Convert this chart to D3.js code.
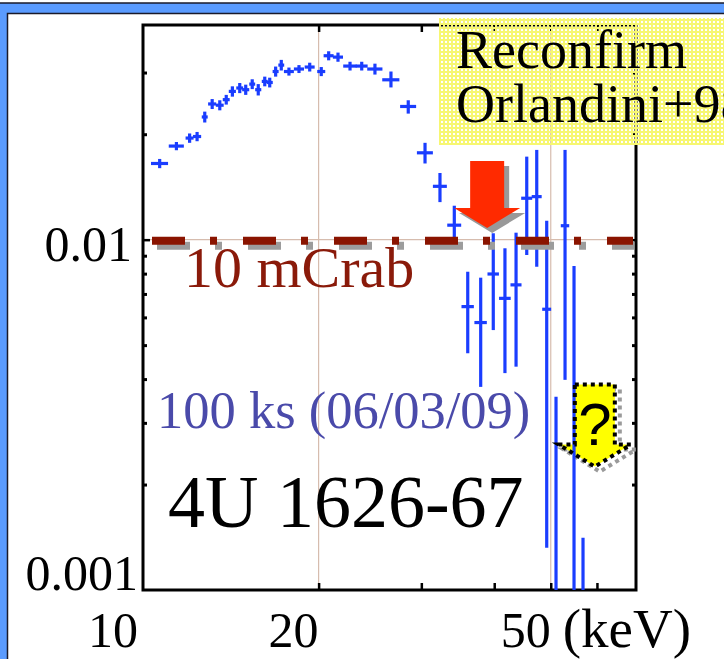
<!DOCTYPE html>
<html>
<head>
<meta charset="utf-8">
<script src="https://cdn.jsdelivr.net/npm/d3@7"></script>
<style>
  html, body { margin: 0; padding: 0; background: #fff; }
  svg { display: block; }
  text { font-family: "Liberation Serif", "Times New Roman", Times, serif; }
</style>
</head>
<body>
<svg id="chart" width="724" height="659"></svg>
<script>
// Spectral bins: centre energy (keV), half bin width (keV), flux and its 1-sigma range
const energy = [10.68, 11.41, 12.02, 12.38, 12.76, 13.14, 13.54, 13.89, 14.23, 14.65,
                15.00, 15.39, 15.76, 16.17, 16.49, 16.88, 17.26, 17.79, 18.51, 19.31,
                20.21, 20.81, 21.59, 22.64, 23.71, 24.98, 26.61, 28.49, 30.44, 32.29,
                34.17, 36.03, 37.92, 39.85, 41.73, 43.60, 45.48, 47.31, 49.21, 51.05,
                52.90, 54.81, 56.79];
const halfWidth = [0.36, 0.34, 0.19, 0.20, 0.15, 0.21, 0.21, 0.19, 0.20, 0.20,
                   0.21, 0.18, 0.19, 0.19, 0.20, 0.20, 0.20, 0.35, 0.37, 0.38,
                   0.32, 0.41, 0.43, 0.60, 0.56, 0.75, 0.90, 0.90, 0.96, 0.89,
                   0.94, 0.88, 0.93, 0.90, 0.96, 0.95, 0.99, 0.93, 0.87, 0.91,
                   0.88, 0.87, 0.90];
const flux = [0.0165, 0.0185, 0.0195, 0.0197, 0.0224, 0.0244, 0.0242, 0.0251, 0.0265, 0.0271,
              0.0268, 0.0278, 0.0268, 0.0283, 0.0281, 0.0302, 0.0315, 0.0302, 0.0307, 0.0311,
              0.0302, 0.0335, 0.0332, 0.0313, 0.0313, 0.0307, 0.0286, 0.0240, 0.0177, 0.0142,
              0.0110, 0.00644, 0.00580, 0.00798, 0.00680, 0.00743, 0.01313, 0.01327, 0.00633, 0.00080,
              0.01096, 0.00070, 0.00050];
const fluxLo = [0.0160, 0.0180, 0.0189, 0.0191, 0.0216, 0.0236, 0.0234, 0.0243, 0.0256, 0.0262,
                0.0259, 0.0269, 0.0258, 0.0274, 0.0272, 0.0292, 0.0304, 0.0294, 0.0299, 0.0302,
                0.0293, 0.0325, 0.0322, 0.0304, 0.0304, 0.0296, 0.0272, 0.0229, 0.0165, 0.0128,
                0.0098, 0.00474, 0.00380, 0.00552, 0.00416, 0.00434, 0.00904, 0.00837, 0.00132, 0.00010,
                0.00398, 0.00010, 0.00010];
const fluxHi = [0.0170, 0.0190, 0.0201, 0.0203, 0.0232, 0.0252, 0.0250, 0.0259, 0.0274, 0.0280,
                0.0277, 0.0287, 0.0278, 0.0292, 0.0290, 0.0312, 0.0326, 0.0310, 0.0315, 0.0320,
                0.0311, 0.0345, 0.0342, 0.0322, 0.0322, 0.0318, 0.0302, 0.0250, 0.0189, 0.0155,
                0.0125, 0.00810, 0.00779, 0.01043, 0.00945, 0.01047, 0.01726, 0.01804, 0.01133, 0.00356,
                0.01804, 0.00841, 0.00141];

// Axes
const xDomain = [10, 70];
const yDomain = [0.001, 0.041];
const xMajorTicks = [20, 30, 40, 50, 60];
const xTickLabels = [[10, "10"], [20, "20"], [50, "50"]];
const xUnitLabel = "(keV)";
const yMajorTicks = [0.01];
const yMinorTicks = [0.002, 0.003, 0.004, 0.005, 0.006, 0.007, 0.008, 0.009, 0.02, 0.03];
const yTickLabels = [[0.01, "0.01"], [0.001, "0.001"]];
const gridX = [20, 50];
const gridY = [0.01];

// Reference level and annotations
const crabLevel = 0.01;
const crabLabel = "10 mCrab";
const exposureLabel = "100 ks (06/03/09)";
const sourceLabel = "4U 1626-67";
const noteLines = ["Reconfirm", "Orlandini+98"];
const redArrowAt = [38.9, 0.0108];    // tip of the red arrow (keV, flux)
const queryArrowAt = [59.5, 0.00225]; // tip of the yellow "?" arrow

const svg = d3.select("#chart");
const W = 724, H = 659;
const plot = { left: 143, right: 636, top: 25, bottom: 590 };

const x = d3.scaleLog().domain(xDomain).range([plot.left, plot.right]);
const y = d3.scaleLog().domain(yDomain).range([plot.bottom, plot.top]);

const defs = svg.append("defs");
defs.append("clipPath").attr("id", "plotClip")
  .append("rect")
  .attr("x", plot.left).attr("y", plot.top)
  .attr("width", plot.right - plot.left).attr("height", plot.bottom - plot.top);

// Dithered yellow fill for the note box (holes let what is beneath show through)
const pat = defs.append("pattern").attr("id", "dither")
  .attr("patternUnits", "userSpaceOnUse").attr("width", 4).attr("height", 4);
pat.append("path").attr("d", "M0,0H4V4H0Z M1,1V3H3V1Z")
  .attr("fill", "#f7f772").attr("fill-rule", "evenodd");

// Slide frame
svg.append("rect").attr("x", 0).attr("y", 0).attr("width", W).attr("height", H).attr("fill", "#fff");
svg.append("rect").attr("x", 0).attr("y", 3).attr("width", W).attr("height", 10).attr("fill", "#5a9bff");
svg.append("rect").attr("x", 0).attr("y", 3).attr("width", 8).attr("height", H).attr("fill", "#5a9bff");
svg.append("line").attr("x1", 0).attr("x2", W).attr("y1", 3).attr("y2", 3)
  .attr("stroke", "#1a1a2a").attr("stroke-width", 1.5);
svg.append("polyline").attr("points", `${W},13.5 7.5,13.5 7.5,${H}`)
  .attr("fill", "none").attr("stroke", "#1a1a2a").attr("stroke-width", 1.5);

// Grid lines
const grid = svg.append("g").attr("stroke", "#d6bcae").attr("stroke-width", 1.2);
grid.selectAll(".gx").data(gridX).join("line")
  .attr("x1", d => x(d)).attr("x2", d => x(d))
  .attr("y1", plot.top).attr("y2", plot.bottom);
grid.selectAll(".gy").data(gridY).join("line")
  .attr("x1", plot.left).attr("x2", plot.right)
  .attr("y1", d => y(d)).attr("y2", d => y(d));

// Axes: ticks point inward on all four sides
function styleAxis(g) {
  g.select(".domain").remove();
  g.selectAll(".tick line").attr("stroke", "#000").attr("stroke-width", 2.5);
  g.selectAll(".tick text").remove();
}
svg.append("g").attr("transform", `translate(0,${plot.bottom})`)
  .call(d3.axisBottom(x).tickValues(xMajorTicks).tickSize(-7)).call(styleAxis);
svg.append("g").attr("transform", `translate(0,${plot.top})`)
  .call(d3.axisTop(x).tickValues(xMajorTicks).tickSize(-7)).call(styleAxis);
svg.append("g").attr("transform", `translate(${plot.left},0)`)
  .call(d3.axisLeft(y).tickValues(yMajorTicks).tickSize(-7)).call(styleAxis);
svg.append("g").attr("transform", `translate(${plot.right},0)`)
  .call(d3.axisRight(y).tickValues(yMajorTicks).tickSize(-7)).call(styleAxis);
svg.append("g").attr("transform", `translate(${plot.left},0)`)
  .call(d3.axisLeft(y).tickValues(yMinorTicks).tickSize(-4)).call(styleAxis)
  .selectAll(".tick line").attr("stroke-width", 3);
svg.append("g").attr("transform", `translate(${plot.right},0)`)
  .call(d3.axisRight(y).tickValues(yMinorTicks).tickSize(-4)).call(styleAxis)
  .selectAll(".tick line").attr("stroke-width", 3);

// Frame of the plot
svg.append("rect")
  .attr("x", plot.left).attr("y", plot.top)
  .attr("width", plot.right - plot.left).attr("height", plot.bottom - plot.top)
  .attr("fill", "none").attr("stroke", "#000").attr("stroke-width", 3);

// Tick labels: right-aligned on their tick
svg.append("g").selectAll("text").data(xTickLabels).join("text")
  .attr("x", d => x(d[0]) - (d[0] === 10 ? 5 : 0)).attr("y", 647)
  .attr("text-anchor", "end").attr("font-size", 50).attr("fill", "#000")
  .text(d => d[1]);
svg.append("text").attr("x", x(50) + 12).attr("y", 647)
  .attr("font-size", 55).attr("fill", "#000").text(xUnitLabel);
svg.append("g").selectAll("text").data(yTickLabels).join("text")
  .attr("x", d => d[0] === 0.001 ? plot.left - 5 : plot.left - 11)
  .attr("y", d => d[0] === 0.001 ? plot.bottom : y(d[0]) + 21)
  .attr("text-anchor", "end").attr("font-size", 50).attr("fill", "#000")
  .text(d => d[1]);

// Yellow "?" arrow (drawn beneath the spectrum)
function downArrow(tipX, tipY, shaftHalf, headHalf, shaftLen, headLen) {
  const sTop = tipY - headLen - shaftLen, hY = tipY - headLen;
  return `M${tipX - shaftHalf},${sTop} H${tipX + shaftHalf} V${hY} H${tipX + headHalf}` +
         ` L${tipX},${tipY} L${tipX - headHalf},${hY} H${tipX - shaftHalf} Z`;
}
const qx = x(queryArrowAt[0]), qy = y(queryArrowAt[1]);
const qPath = downArrow(qx, qy, 20, 36, 60, 22);
svg.append("path").attr("d", qPath).attr("transform", "translate(5,5)")
  .attr("fill", "none").attr("stroke", "#9a9a9a").attr("stroke-width", 4)
  .attr("stroke-dasharray", "4,4");
svg.append("path").attr("d", qPath).attr("fill", "#ffff00");

// Spectrum with error bars
const pts = energy.map((e, i) => ({ e, hw: halfWidth[i], f: flux[i], lo: fluxLo[i], hi: fluxHi[i] }));
const spec = svg.append("g").attr("clip-path", "url(#plotClip)")
  .attr("stroke", "#1a3dff").attr("stroke-width", 3.2);
spec.selectAll(".ey").data(pts).join("line")
  .attr("x1", d => x(d.e)).attr("x2", d => x(d.e))
  .attr("y1", d => y(d.hi)).attr("y2", d => y(d.lo));
spec.selectAll(".ex").data(pts).join("line")
  .attr("x1", d => x(d.e - d.hw)).attr("x2", d => x(d.e + d.hw))
  .attr("y1", d => y(d.f)).attr("y2", d => y(d.f));

// Outline of the "?" arrow above the spectrum
svg.append("path").attr("d", qPath)
  .attr("fill", "none").attr("stroke", "#000").attr("stroke-width", 4)
  .attr("stroke-dasharray", "4,4");
svg.append("text").attr("x", qx).attr("y", qy - 22)
  .attr("text-anchor", "middle").attr("font-size", 60)
  .attr("style", "font-family:'Liberation Sans',Arial,sans-serif")
  .text("?");

// 10 mCrab reference level (dash-dot with drop shadow)
const crabY = y(crabLevel);
svg.append("line")
  .attr("x1", plot.left + 5).attr("x2", plot.right - 2)
  .attr("y1", crabY + 6).attr("y2", crabY + 6)
  .attr("stroke", "#9c9c9c").attr("stroke-width", 8)
  .attr("stroke-dasharray", "33,25,7,26").attr("stroke-dashoffset", 82);
svg.append("line")
  .attr("x1", plot.left).attr("x2", plot.right - 3)
  .attr("y1", crabY + 1).attr("y2", crabY + 1)
  .attr("stroke", "#8a1400").attr("stroke-width", 8)
  .attr("stroke-dasharray", "33,25,7,26").attr("stroke-dashoffset", 82);

// Red arrow pointing at the level
const rx = x(redArrowAt[0]), ry = y(redArrowAt[1]);
const rPath = downArrow(rx, ry, 17, 33, 47, 20);
svg.append("path").attr("d", rPath).attr("transform", "translate(5,5)").attr("fill", "#999");
svg.append("path").attr("d", rPath).attr("fill", "#ff2a00");

// Labels inside the plot
svg.append("text").attr("x", 184).attr("y", 287)
  .attr("font-size", 58).attr("fill", "#8a1a0a").text(crabLabel);
svg.append("text").attr("x", 157).attr("y", 428)
  .attr("font-size", 52.5).attr("fill", "#4a4aaa").text(exposureLabel);
svg.append("text").attr("x", 168).attr("y", 527)
  .attr("font-size", 74).attr("fill", "#000").text(sourceLabel);

// Note box, drawn over the axes
svg.append("rect").attr("x", 439).attr("y", 18).attr("width", W - 439).attr("height", 127)
  .attr("fill", "url(#dither)");
svg.append("g").selectAll("text").data(noteLines).join("text")
  .attr("x", 456).attr("y", (d, i) => 68 + i * 54)
  .attr("font-size", 54).attr("fill", "#000")
  .text(d => d);
</script>
</body>
</html>
